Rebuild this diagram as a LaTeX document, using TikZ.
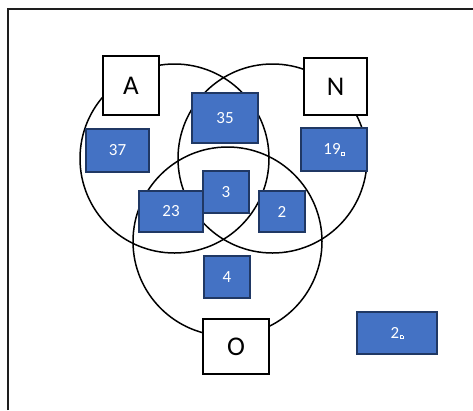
\documentclass[tikz,border=0pt]{standalone}
\usepackage{fontspec}
\setmainfont{Carlito}
\usepackage{tikz}
\usepackage{xcolor}
\usetikzlibrary{positioning}
\definecolor{vnblue}{RGB}{68, 114, 196}
\definecolor{vnedge}{RGB}{32, 56, 100}
\definecolor{vnframe}{RGB}{30, 30, 30}
\newcommand{\boxmark}{{\kern0.6pt\fboxsep=0pt\fboxrule=0.4pt\fbox{\rule{0pt}{2.6pt}\kern2.6pt}}}
\tikzset{
    setcircle/.style={draw, line width=1.5pt},
    setlabel/.style={draw, fill=white, line width=1.9pt, inner sep=0pt, font=\fontsize{27}{27}\selectfont},
    countbox/.style={draw=vnedge, fill=vnblue, line width=1.6pt, inner sep=0pt, text=white, font=\fontsize{17}{17}\selectfont}
}

\begin{document}
\begin{tikzpicture}[x=1pt, y=-1pt]
    \useasboundingbox (0,0) rectangle (473,410);
    % frame
    \draw[vnframe, line width=1.5pt] (8,410) -- (8,9) -- (473,9);
    % sets
    \coordinate (cA) at (174.5,158.5);
    \coordinate (cN) at (272.5,158.5);
    \coordinate (cO) at (227.5,241.5);
    \draw[setcircle] (cA) circle (94.5);
    \draw[setcircle] (cN) circle (94.5);
    \draw[setcircle] (cO) circle (94.5);
    % set names
    \node[setlabel, minimum width=56, minimum height=59] (labA) at (131,85.5) {A};
    \node[setlabel, minimum width=63, minimum height=57] (labN) at (335.5,86.5) {N};
    \node[setlabel, minimum width=66, minimum height=55] (labO) at (236,346.5) {O};
    % counts
    \node[countbox, minimum width=66, minimum height=50] (nAN) at (225,118) {35};
    \node[countbox, minimum width=63, minimum height=43] (nA) at (117.5,150.5) {37};
    \node[countbox, minimum width=66, minimum height=43] (nN) at (334,149.5) {19\boxmark};
    \node[countbox, minimum width=46, minimum height=42] (nANO) at (226,192) {3};
    \node[countbox, minimum width=64, minimum height=41] (nAO) at (171,211.5) {23};
    \node[countbox, minimum width=46, minimum height=41] (nNO) at (282,211.5) {2};
    \node[countbox, minimum width=46, minimum height=42] (nO) at (227,277) {4};
    \node[countbox, minimum width=80, minimum height=42] (nout) at (397,333) {2\boxmark};
\end{tikzpicture}
\end{document}
